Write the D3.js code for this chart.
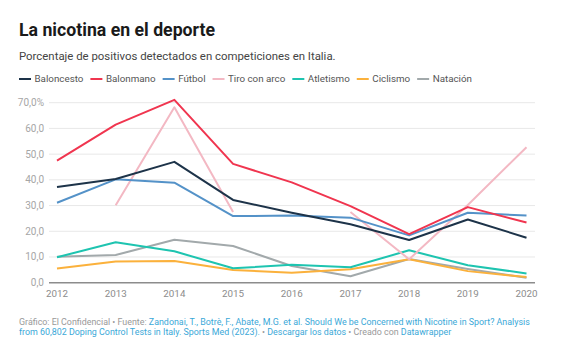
<!DOCTYPE html>
<html>
<head>
<meta charset="utf-8">
<script src="https://cdn.jsdelivr.net/npm/d3@7"></script>
<style>
  body { margin: 0; background: #fff; font-family: Roboto, sans-serif; }
</style>
</head>
<body>
<div id="chart"></div>
<script>
var years = [2012, 2013, 2014, 2015, 2016, 2017, 2018, 2019, 2020];
var sports = ["Baloncesto", "Balonmano", "Fútbol", "Tiro con arco", "Atletismo", "Ciclismo", "Natación"];
var colors = ["#1d3349", "#f0354f", "#5492c8", "#f3b8c3", "#1ec4b0", "#fbb13c", "#a2a9ab"];

var baloncesto = [37.2, 40.3, 47.0, 32.2, 27.2, 22.7, 16.6, 24.6, 17.5];
var balonmano = [47.5, 61.5, 71.1, 46.2, 39.0, 29.8, 18.9, 29.4, 23.4];
var futbol = [31.1, 40.2, 38.9, 25.9, 26.1, 25.3, 18.4, 27.2, 26.1];
var tiroConArco = [null, 30.1, 68.2, 27.5, null, 27.5, 9.1, 30.2, 52.7];
var atletismo = [9.9, 15.7, 12.2, 5.6, 7.0, 6.0, 12.6, 6.8, 3.6];
var ciclismo = [5.5, 8.2, 8.4, 4.9, 3.9, 5.2, 9.1, 4.5, 2.2];
var natacion = [10.1, 10.8, 16.7, 14.3, 6.5, 2.5, 9.2, 5.3, 1.9];

var yTicks = [0, 10, 20, 30, 40, 50, 60, 70];

var series = [baloncesto, balonmano, futbol, tiroConArco, atletismo, ciclismo, natacion];

var width = 570, height = 364;
var svg = d3.select("#chart").append("svg")
    .attr("width", width)
    .attr("height", height);

// header
svg.append("text")
    .attr("x", 19).attr("y", 36)
    .style("font-size", "17.7px").style("font-weight", 700).style("fill", "#1a1a1a")
    .text("La nicotina en el deporte");
svg.append("text")
    .attr("x", 19).attr("y", 60)
    .style("font-size", "11.4px").style("fill", "#444")
    .text("Porcentaje de positivos detectados en competiciones en Italia.");

// legend: swatch + label, laid out by measured text width
var legend = svg.append("g").attr("transform", "translate(19,79)");
var lx = 0;
sports.forEach(function (s, i) {
    var item = legend.append("g").attr("transform", "translate(" + lx + ",0)");
    item.append("line")
        .attr("x1", 0).attr("x2", 12)
        .attr("stroke", colors[i])
        .attr("stroke-width", 2);
    var t = item.append("text")
        .attr("x", 15.5).attr("dy", "0.35em")
        .style("font-size", "9.8px").style("fill", "#555")
        .text(s);
    lx += 15.5 + t.node().getComputedTextLength() + 7;
});

// scales
var x = d3.scaleLinear().domain([2012, 2020]).range([57, 526.5]);
var y = d3.scaleLinear().domain([0, 70]).range([282.7, 102.7]);

var g = svg.append("g");

// gridlines
g.selectAll(".grid")
    .data(yTicks.slice(1))
    .enter().append("line")
    .attr("x1", 49).attr("x2", 535)
    .attr("y1", function (d) { return y(d); })
    .attr("y2", function (d) { return y(d); })
    .attr("stroke", "#e8e8e8")
    .attr("stroke-width", 1);

// y labels
g.selectAll(".ylab")
    .data(yTicks)
    .enter().append("text")
    .attr("x", 44)
    .attr("y", function (d) { return y(d); })
    .attr("dy", "0.35em")
    .attr("text-anchor", "end")
    .style("font-size", "10px").style("fill", "#a6a6a6")
    .text(function (d) { return d.toFixed(1).replace(".", ",") + (d === 70 ? "%" : ""); });

// baseline
g.append("line")
    .attr("x1", 49).attr("x2", 535)
    .attr("y1", y(0)).attr("y2", y(0))
    .attr("stroke", "#8c8c8c").attr("stroke-width", 1.5);

// x labels
g.selectAll(".xlab")
    .data(years)
    .enter().append("text")
    .attr("x", function (d) { return x(d); })
    .attr("y", 293.5)
    .attr("dy", "0.35em")
    .attr("text-anchor", "middle")
    .style("font-size", "9.8px").style("fill", "#8c8c8c")
    .text(function (d) { return d; });

// lines
var line = d3.line()
    .defined(function (d) { return d != null; })
    .x(function (d, i) { return x(years[i]); })
    .y(function (d) { return y(d); });

var drawOrder = [6, 5, 4, 3, 2, 0, 1];
drawOrder.forEach(function (k) {
    g.append("path")
        .datum(series[k])
        .attr("d", line)
        .attr("fill", "none")
        .attr("stroke", colors[k])
        .attr("stroke-width", 2)
        .attr("stroke-linejoin", "round");
});

// footer
var foot = svg.append("g").style("font-size", "8.9px");
var f1 = foot.append("text").attr("x", 19).attr("y", 325);
f1.append("tspan").style("fill", "#999").text("Gráfico: El Confidencial • Fuente: ");
f1.append("tspan").style("fill", "#3aa8d8").text("Zandonai, T., Botrè, F., Abate, M.G. et al. Should We be Concerned with Nicotine in Sport? Analysis");
var f2 = foot.append("text").attr("x", 19).attr("y", 335);
f2.append("tspan").style("fill", "#3aa8d8").text("from 60,802 Doping Control Tests in Italy. Sports Med (2023).");
f2.append("tspan").style("fill", "#999").text(" • ");
f2.append("tspan").style("fill", "#3aa8d8").text("Descargar los datos");
f2.append("tspan").style("fill", "#999").text(" • Creado con ");
f2.append("tspan").style("fill", "#3aa8d8").text("Datawrapper");
</script>
</body>
</html>
